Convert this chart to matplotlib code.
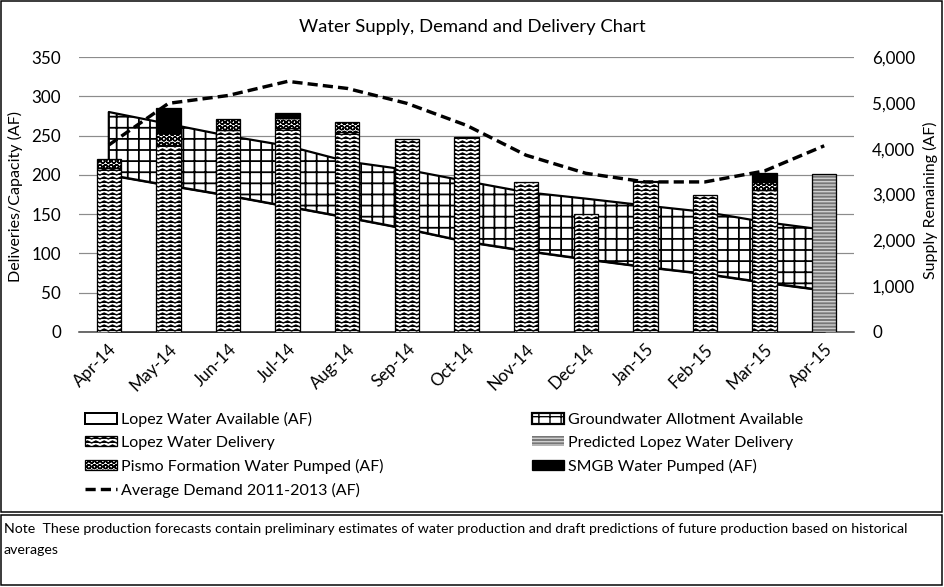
import warnings
import numpy as np
import matplotlib
matplotlib.use('Agg')
import matplotlib.pyplot as plt
import matplotlib.hatch as mhatch
from matplotlib.path import Path
from matplotlib.patches import Rectangle
from matplotlib.ticker import FuncFormatter

warnings.filterwarnings('ignore', message='hatch must consist')

# --- datos ---
months = ['Apr-14', 'May-14', 'Jun-14', 'Jul-14', 'Aug-14', 'Sep-14', 'Oct-14',
          'Nov-14', 'Dec-14', 'Jan-15', 'Feb-15', 'Mar-15', 'Apr-15']
# supply remaining (AF, right axis)
lopez_available = [3430, 3200, 2980, 2740, 2500, 2250, 1970, 1770, 1590, 1420, 1270, 1080, 910]
groundwater = [1370, 1340, 1300, 1320, 1220, 1290, 1320, 1280, 1320, 1340, 1350, 1320, 1320]
# deliveries (AF, left axis)
lopez_delivery = [209, 238, 257, 260, 254, 246, 248, 191, 150, 192, 175, 181, 0]
pismo = [11, 15, 14, 12, 13, 0, 0, 0, 0, 0, 0, 10, 0]
smgb = [0, 32, 0, 7, 0, 0, 0, 0, 0, 0, 0, 11, 0]
predicted = [0, 0, 0, 0, 0, 0, 0, 0, 0, 0, 0, 0, 201]
avg_demand = [238, 291, 301, 319, 310, 291, 263, 225, 202, 191, 191, 205, 237]

left_ticks = [0, 50, 100, 150, 200, 250, 300, 350]
right_ticks = [0, 1000, 2000, 3000, 4000, 5000, 6000]

DPI = 100
W, H = 944, 587


# patron "wave" de Excel (zigzag), '~' = 25 filas por unidad
class WaveHatch(mhatch.HatchPatternBase):
    def __init__(self, hatch, density):
        self.num_rows = hatch.count('~') * 25
        self.num_pts = 25
        self.num_vertices = self.num_rows * self.num_pts

    def set_vertices_and_codes(self, vertices, codes):
        xs = np.linspace(0, 1, self.num_pts)
        wiggle = np.where(np.arange(self.num_pts) % 2 == 0, -1.0, 1.0) / 100
        for r in range(self.num_rows):
            sl = slice(r * self.num_pts, (r + 1) * self.num_pts)
            vertices[sl, 0] = xs
            vertices[sl, 1] = (r + 0.5) / self.num_rows + wiggle
            codes[sl] = Path.LINETO
            codes[r * self.num_pts] = Path.MOVETO


# cuadricula mas fina que '+', '#' = 9 lineas por unidad
class GridHatch(mhatch.HatchPatternBase):
    def __init__(self, hatch, density):
        self.num_lines = hatch.count('#') * 9
        self.num_vertices = self.num_lines * 4

    def set_vertices_and_codes(self, vertices, codes):
        steps = (np.arange(self.num_lines) + 0.5) / self.num_lines
        n = self.num_lines * 2
        vertices[0:n:2, 0] = 0.0
        vertices[0:n:2, 1] = steps
        vertices[1:n:2, 0] = 1.0
        vertices[1:n:2, 1] = steps
        vertices[n::2, 0] = steps
        vertices[n::2, 1] = 0.0
        vertices[n + 1::2, 0] = steps
        vertices[n + 1::2, 1] = 1.0
        codes[0::2] = Path.MOVETO
        codes[1::2] = Path.LINETO


mhatch._hatch_types.append(WaveHatch)
mhatch._hatch_types.append(GridHatch)

plt.rcParams['font.family'] = ['Lato', 'DejaVu Sans']
plt.rcParams['hatch.linewidth'] = 1.0


def px(v):
    return v * 72 / DPI


def to_af(v):
    return np.asarray(v) * 6000 / 350


def to_left(v):
    return np.asarray(v) * 350 / 6000


def barras(ax, values, bottom=None, **kw):
    values = np.asarray(values, dtype=float)
    bottom = np.zeros_like(values) if bottom is None else np.asarray(bottom, dtype=float)
    idx = np.nonzero(values > 0)[0]
    return ax.bar(idx, values[idx], bottom=bottom[idx], width=0.41, **kw)


fig = plt.figure(figsize=(W / DPI, H / DPI), dpi=DPI)
ax = fig.add_axes([79 / W, 1 - 332 / H, (854 - 79) / W, (332 - 57) / H])

x = np.arange(len(months))
lower = to_left(lopez_available)
upper = to_left(np.array(lopez_available) + np.array(groundwater))

avail = ax.fill_between(x, 0, lower, facecolor='white', edgecolor='black',
                        linewidth=px(2), zorder=2)
plt.rcParams['hatch.linewidth'] = 1.3
gw = ax.fill_between(x, lower, upper, facecolor='white', edgecolor='black',
                     hatch='#', linewidth=px(2.2), zorder=2)
plt.rcParams['hatch.linewidth'] = 1.0

bar_kw = dict(edgecolor='black', linewidth=px(1.3), zorder=3)
deliv = barras(ax, lopez_delivery, facecolor='white', hatch='~', **bar_kw)
pis = barras(ax, pismo, bottom=lopez_delivery, facecolor='white', hatch='OOO', **bar_kw)
smgb_bottom = np.array(lopez_delivery) + np.array(pismo)
smg = barras(ax, smgb, bottom=smgb_bottom, facecolor='black', **bar_kw)
pred = barras(ax, predicted, facecolor='#777777', hatch='-----', edgecolor='#cfcfcf',
              linewidth=0, zorder=3)
barras(ax, predicted, fill=False, edgecolor='black', linewidth=px(1.3), zorder=3)

dem, = ax.plot(x, avg_demand, color='black', linewidth=px(3.4), dashes=(3, 1.5),
               zorder=4)

ax.set_xlim(-0.5, len(months) - 0.5)
ax.set_ylim(0, 350)
ax.set_yticks(left_ticks)
ax.grid(axis='y', color='#8c8c8c', linewidth=px(1.2))
ax.set_axisbelow(True)
for s in ['top', 'left', 'right']:
    ax.spines[s].set_visible(False)
ax.spines['bottom'].set_color('#404040')
ax.spines['bottom'].set_linewidth(px(1.5))
ax.tick_params(axis='y', length=0, labelsize=px(17), pad=px(18))
ax.tick_params(axis='x', length=0, pad=px(9))
ax.set_xticks(x)
ax.set_xticklabels(months, rotation=45, ha='right', va='top',
                   rotation_mode='anchor', fontsize=px(17))

sec = ax.secondary_yaxis('right', functions=(to_af, to_left))
sec.set_yticks(right_ticks)
sec.yaxis.set_major_formatter(FuncFormatter(lambda v, p: f'{v:,.0f}'))
sec.tick_params(length=0, labelsize=px(17), pad=px(18))
sec.spines['right'].set_visible(False)

fig.text(472 / W, 1 - 27 / H, 'Water Supply, Demand and Delivery Chart',
         ha='center', va='center', fontsize=px(18.5))
fig.text(15 / W, 1 - 197 / H, 'Deliveries/Capacity (AF)', rotation=90,
         ha='center', va='center', fontsize=px(16))
fig.text(930 / W, 1 - 200 / H, 'Supply Remaining (AF)', rotation=90,
         ha='center', va='center', fontsize=px(16))

handles = [avail, deliv, pis, dem, gw, pred, smg]
labels = ['Lopez Water Available (AF)', 'Lopez Water Delivery',
          'Pismo Formation Water Pumped (AF)', 'Average Demand 2011-2013 (AF)',
          'Groundwater Allotment Available', 'Predicted Lopez Water Delivery',
          'SMGB Water Pumped (AF)']
fig.legend(handles, labels, ncol=2, loc='upper left',
           bbox_to_anchor=(85 / W, 1 - 412 / H), frameon=False,
           fontsize=px(16), borderpad=0, borderaxespad=0,
           handlelength=2.0, handleheight=0.6, handletextpad=0.25,
           labelspacing=0.55, columnspacing=9.3)

# recuadros del grafico y de la nota
fig.patches.append(Rectangle((1 / W, 1 - 512 / H), 941 / W, 511 / H, fill=False,
                             edgecolor='black', linewidth=px(1.5),
                             transform=fig.transFigure))
fig.patches.append(Rectangle((1 / W, 1 - 585 / H), 941 / W, 70 / H, fill=False,
                             edgecolor='black', linewidth=px(1.5),
                             transform=fig.transFigure))
fig.text(4 / W, 1 - 523 / H,
         'Note  These production forecasts contain preliminary estimates of water '
         'production and draft predictions of future production based on historical\n'
         'averages', ha='left', va='top', fontsize=px(14.1), linespacing=1.9)

fig.savefig('out.png', dpi=DPI)
